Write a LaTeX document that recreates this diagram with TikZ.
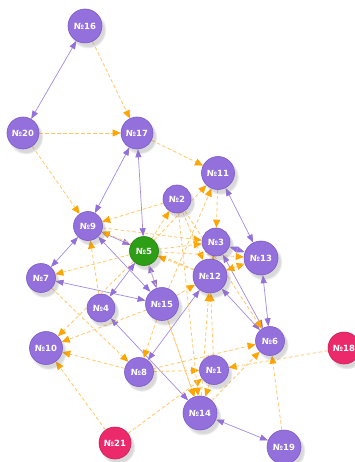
\documentclass[tikz,border=0pt]{standalone}
\usepackage{fontspec}
\setmainfont{DejaVu Sans}
\usetikzlibrary{arrows.meta,shadows,backgrounds}
\definecolor{pur}{HTML}{9370DB}
\definecolor{purd}{HTML}{7B5BC9}
\definecolor{pedge}{HTML}{A38AE6}
\definecolor{grn}{HTML}{2E9E17}
\definecolor{grnd}{HTML}{23800F}
\definecolor{rd}{HTML}{EC2A6B}
\definecolor{rdd}{HTML}{C81E55}
\definecolor{oline}{HTML}{FFC766}
\definecolor{otip}{HTML}{FFA500}
\tikzset{
 nd/.style={circle, fill=pur, draw=purd, line width=0.6pt, text=white, inner sep=0pt, minimum size=#1,
   font=\fontsize{8.5}{9}\selectfont\bfseries,
   circular drop shadow={shadow xshift=2.5pt, shadow yshift=-3.5pt, shadow scale=1.1, opacity=0.3}},
 nd/.default=28pt,
 gn/.style={nd=#1, fill=grn, draw=grnd},
 rn/.style={nd=#1, fill=rd, draw=rdd},
 pe/.style={draw=pedge, line width=0.7pt,
   {Triangle[length=8pt,width=6pt,color=pur,fill=pur]}-{Triangle[length=8pt,width=6pt,color=pur,fill=pur]}},
 oe/.style={draw=oline, line width=0.8pt, dash pattern=on 3.5pt off 2.5pt,
   -{Triangle[length=8pt,width=7pt,color=otip,fill=otip]}},
}
\begin{document}
\begin{tikzpicture}[x=1pt,y=-1pt]
\useasboundingbox (0,0) rectangle (355,462);
\node[nd=34pt] (n16) at (85,26) {№16};
\node[nd=32pt] (n20) at (23,133) {№20};
\node[nd=32pt] (n17) at (137,133) {№17};
\node[nd=33pt] (n11) at (218,173) {№11};
\node[nd=28pt] (n2) at (177,199) {№2};
\node[nd=29pt] (n9) at (88,226) {№9};
\node[gn=29pt] (n5) at (144,251) {№5};
\node[nd=28pt] (n3) at (216,242) {№3};
\node[nd=34pt] (n13) at (261,258) {№13};
\node[nd=34pt] (n12) at (210,276) {№12};
\node[nd=29pt] (n7) at (41,278) {№7};
\node[nd=28pt] (n4) at (101,308) {№4};
\node[nd=33pt] (n15) at (162,304) {№15};
\node[nd=33pt] (n10) at (46,348) {№10};
\node[nd=29pt] (n6) at (270,341) {№6};
\node[rn=32pt] (n18) at (344,348) {№18};
\node[nd=29pt] (n8) at (139,372) {№8};
\node[nd=29pt] (n1) at (214,370) {№1};
\node[nd=34pt] (n14) at (200,413) {№14};
\node[rn=32pt] (n21) at (115,443) {№21};
\node[nd=34pt] (n19) at (284,447) {№19};
\begin{pgfonlayer}{background}
\fill[white] (0,0) rectangle (355,462);
% purple edges
\draw[pe] (n16) -- (n20);
\draw[pe] (n17) -- (n9);
\draw[pe] (n17) -- (n5);
\draw[pe] (n9) -- (n7);
\draw[pe] (n9) -- (n5);
\draw[pe] (n9) -- (n15);
\draw[pe] (n7) -- (n15);
\draw[pe] (n5) -- (n15);
\draw[pe] (n5) -- (n4);
\draw[pe] (n4) -- (n14);
\draw[pe] (n8) -- (n12);
\draw[pe] (n11) -- (n13);
\draw[pe] (n13) -- (n6);
\draw[pe] (n12) -- (n6);
\draw[pe] (n3) -- (n6);
\draw[pe] (n3) -- (n13);
\draw[pe] (n14) -- (n19);
% orange edges
\draw[oe] (n16) -- (n17);
\draw[oe] (n20) -- (n17);
\draw[oe] (n20) -- (n9);
\draw[oe] (n17) -- (n11);
\draw[oe] (n11) -- (n3);
\draw[oe] (n2) -- (n9);
\draw[oe] (n5) -- (n2);
\draw[oe] (n4) -- (n9);
\draw[oe] (n9) -- (n3);
\draw[oe] (n12) -- (n9);
\draw[oe] (n5) -- (n7);
\draw[oe] (n12) -- (n5);
\draw[oe] (n5) -- (n3);
\draw[oe] (n15) -- (n12);
\draw[oe] (n2) -- (n12);
\draw[oe] (n2) -- (n6);
\draw[oe] (n7) -- (n8);
\draw[oe] (n5) -- (n10);
\draw[oe] (n15) -- (n10);
\draw[oe] (n8) -- (n10);
\draw[oe] (n21) -- (n10);
\draw[oe] (n8) -- (n1);
\draw[oe] (n8) -- (n6);
\draw[oe] (n18) -- (n1);
\draw[oe] (n19) -- (n6);
\draw[oe] (n14) -- (n6);
\draw[oe] (n21) -- (n1);
\draw[oe] (n5) -- (n14);
\draw[oe] (n15) -- (n14);
\draw[oe] (n1) -- (n14);
\draw[oe] (n1) -- (n12);
\draw[oe] (n14) -- (n12);
\draw[oe] (n12) -- (n13);
\draw[oe] (n13) -- (n12);
\draw[oe] (n3) -- (n12);
\draw[oe] (n12) -- (n3);
\draw[oe] (n5) -- (n13);
\draw[oe] (n5) -- (n11);
\draw[oe] (n15) -- (n11);
\draw[oe] (n15) -- (n8);
\draw[oe] (n2) -- (n14);
\end{pgfonlayer}
\end{tikzpicture}
\end{document}
